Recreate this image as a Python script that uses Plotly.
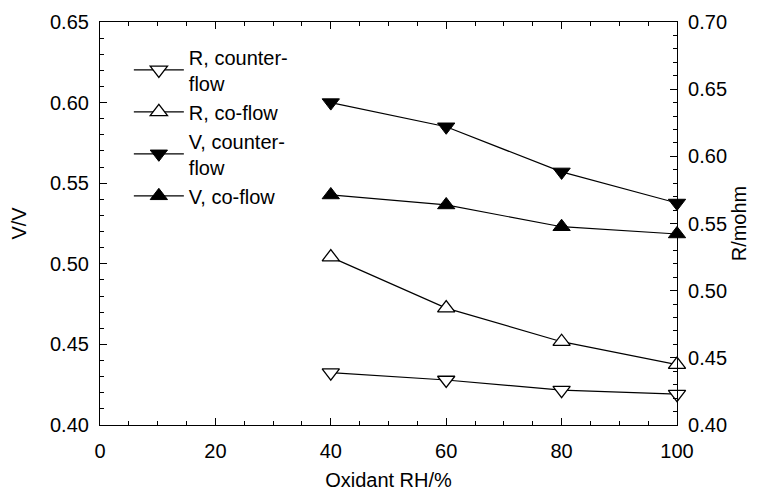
import plotly.graph_objects as go

rh = [40, 60, 80, 100]
r_counter = [0.439, 0.4335, 0.426, 0.423]
r_co = [0.525, 0.487, 0.462, 0.445]
v_counter = [0.600, 0.585, 0.557, 0.5377]
v_co = [0.5427, 0.5365, 0.523, 0.5185]

x_ticks = [0, 20, 40, 60, 80, 100]
y_ticks = [0.40, 0.45, 0.50, 0.55, 0.60, 0.65]
y2_ticks = [0.40, 0.45, 0.50, 0.55, 0.60, 0.65, 0.70]

FAM = "Liberation Sans, Arial, sans-serif"
font = dict(family=FAM, size=20, color="black")
leg_font = dict(family=FAM, size=20, color="black")

fig = go.Figure()
common = dict(mode="lines+markers", line=dict(color="black", width=1.2), cliponaxis=False)
fig.add_trace(go.Scatter(x=rh, y=r_counter, name="R, counter-<br>flow", yaxis="y2",
                         marker=dict(symbol="triangle-down", size=15, color="white",
                                     line=dict(color="black", width=1.3)), **common))
fig.add_trace(go.Scatter(x=rh, y=r_co, name="R, co-flow", yaxis="y2",
                         marker=dict(symbol="triangle-up", size=15, color="white",
                                     line=dict(color="black", width=1.3)), **common))
fig.add_trace(go.Scatter(x=rh, y=v_counter, name="V, counter-<br>flow", yaxis="y",
                         marker=dict(symbol="triangle-down", size=15, color="black",
                                     line=dict(color="black", width=1)), **common))
fig.add_trace(go.Scatter(x=rh, y=v_co, name="V, co-flow", yaxis="y",
                         marker=dict(symbol="triangle-up", size=15, color="black",
                                     line=dict(color="black", width=1)), **common))

axis_common = dict(showgrid=False, zeroline=False, showline=True, linecolor="black",
                   linewidth=1.2, ticks="inside", ticklen=7, tickwidth=1.2,
                   tickcolor="black", tickfont=font, automargin=False)

fig.update_layout(
    width=761, height=490,
    margin=dict(l=92, r=92, t=14, b=73),
    paper_bgcolor="white", plot_bgcolor="white",
    font=font,
    showlegend=True,
    legend=dict(x=0.05, y=0.962, xanchor="left", yanchor="top",
                bgcolor="rgba(0,0,0,0)", font=leg_font, tracegroupgap=0,
                itemwidth=50),
    xaxis=dict(range=[0, 100], tickvals=x_ticks, mirror="ticks", ticklabelstandoff=8,
               title=dict(text="Oxidant RH/%", font=font, standoff=11),
               minor=dict(dtick=5, ticks="inside", ticklen=4, tickcolor="black"),
               **axis_common),
    yaxis=dict(range=[0.40, 0.65], tickvals=y_ticks, tickformat=".2f", ticklabelstandoff=6,
               title=dict(text="V/V", font=font, standoff=20),
               minor=dict(dtick=0.01, ticks="inside", ticklen=4, tickcolor="black"),
               **axis_common),
    yaxis2=dict(range=[0.40, 0.70], tickvals=y2_ticks, tickformat=".2f", ticklabelstandoff=6,
                overlaying="y", side="right",
                title=dict(text="R/mohm", font=font, standoff=5),
                minor=dict(dtick=0.01, ticks="inside", ticklen=4, tickcolor="black"),
                **axis_common),
)

fig.write_html("out.html")
